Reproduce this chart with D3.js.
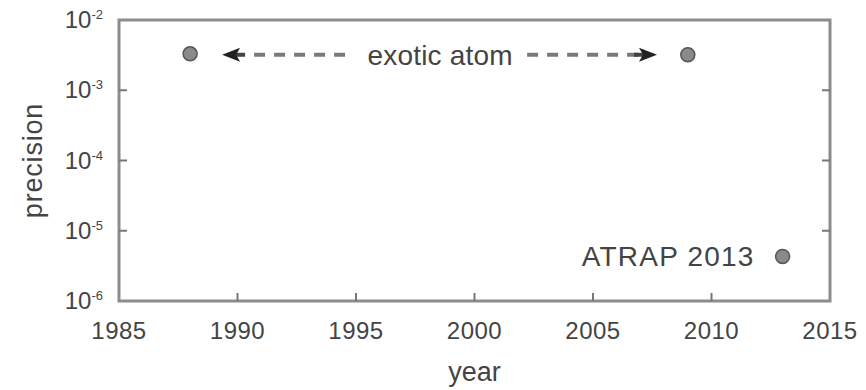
<!DOCTYPE html>
<html>
<head>
<meta charset="utf-8">
<script src="https://cdn.jsdelivr.net/npm/d3@7"></script>
<style>
  body { margin: 0; background: #fff; }
  text { font-family: "Liberation Sans", Arial, sans-serif; fill: #444; }
</style>
</head>
<body>
<script>
// data
var years = [1988, 2009, 2013];
var precision = [3.3e-3, 3.2e-3, 4.3e-6];
var pointLabels = ["", "", "ATRAP 2013"];
var xTicks = [1985, 1990, 1995, 2000, 2005, 2010, 2015];
var yExponents = [-2, -3, -4, -5, -6];
// arrow annotation: tips in years, text centre year, precision level
var arrowSpan = [1989.35, 2007.7];
var arrowText = "exotic atom";
var arrowTextYear = 1998.55;
var arrowLevel = 3.2e-3;

var margin = {top: 20, right: 36, bottom: 89, left: 119},
    width = 866 - margin.left - margin.right,
    height = 390 - margin.top - margin.bottom;

var svg = d3.select("body").append("svg")
    .attr("width", 866)
    .attr("height", 390);

var g = svg.append("g")
    .attr("transform", "translate(" + margin.left + "," + margin.top + ")");

var x = d3.scaleLinear().domain([1985, 2015]).range([0, width]);
var y = d3.scaleLog().domain([1e-6, 1e-2]).range([height, 0]);

// frame
g.append("rect")
    .attr("width", width)
    .attr("height", height)
    .style("fill", "none")
    .style("stroke", "#8c8c8c")
    .style("stroke-width", 3);

// x ticks (inward) and labels
g.selectAll(".xtick")
    .data(xTicks.slice(1, -1))
  .enter().append("line")
    .attr("x1", function(d) { return x(d); })
    .attr("x2", function(d) { return x(d); })
    .attr("y1", height)
    .attr("y2", height - 8)
    .style("stroke", "#777")
    .style("stroke-width", 2);

g.selectAll(".xlabel")
    .data(xTicks)
  .enter().append("text")
    .attr("x", function(d) { return x(d); })
    .attr("y", height + 38)
    .attr("text-anchor", "middle")
    .style("font-size", "24px")
    .style("letter-spacing", "0.5px")
    .text(function(d) { return d; });

// y ticks (inward, both sides) and labels
[0, width].forEach(function(x0) {
  g.selectAll(null)
      .data(yExponents.slice(1, -1))
    .enter().append("line")
      .attr("x1", x0)
      .attr("x2", x0 == 0 ? 8 : x0 - 8)
      .attr("y1", function(d) { return y(Math.pow(10, d)); })
      .attr("y2", function(d) { return y(Math.pow(10, d)); })
      .style("stroke", "#777")
      .style("stroke-width", 2);
});

var ylab = g.selectAll(".ylabel")
    .data(yExponents)
  .enter().append("text")
    .attr("x", -16)
    .attr("y", function(d) { return y(Math.pow(10, d)) + 8; })
    .attr("text-anchor", "end")
    .style("font-size", "24px");
ylab.append("tspan").text("10");
ylab.append("tspan")
    .attr("dy", -9)
    .style("font-size", "13px")
    .text(function(d) { return String(d); });

// axis titles
g.append("text")
    .attr("x", width / 2)
    .attr("y", height + 80)
    .attr("text-anchor", "middle")
    .style("font-size", "27px")
    .text("year");

g.append("text")
    .attr("transform", "translate(" + (-77) + "," + (height / 2) + ") rotate(-90)")
    .attr("text-anchor", "middle")
    .style("font-size", "27px")
    .style("letter-spacing", "0.8px")
    .text("precision");

// arrow annotation
var ay = y(arrowLevel);
var tx = x(arrowTextYear);
var xl = x(arrowSpan[0]), xr = x(arrowSpan[1]);

g.append("line")
    .attr("x1", xl + 32).attr("x2", tx - 95)
    .attr("y1", ay).attr("y2", ay)
    .style("stroke", "#7a7a7a")
    .style("stroke-width", 4)
    .style("stroke-dasharray", "11,9");

g.append("line")
    .attr("x1", tx + 87).attr("x2", xr - 19)
    .attr("y1", ay).attr("y2", ay)
    .style("stroke", "#7a7a7a")
    .style("stroke-width", 4)
    .style("stroke-dasharray", "11,9");

// arrow heads with a short stub
[[xl, 1], [xr, -1]].forEach(function(a) {
  var t = a[0], s = a[1];
  g.append("line")
      .attr("x1", t + s * 12).attr("x2", t + s * 23)
      .attr("y1", ay).attr("y2", ay)
      .style("stroke", "#444")
      .style("stroke-width", 4);
  g.append("path")
      .attr("d", "M" + t + "," + ay +
                 "L" + (t + s * 18) + "," + (ay - 7) +
                 "L" + (t + s * 14) + "," + ay +
                 "L" + (t + s * 18) + "," + (ay + 7) + "Z")
      .style("fill", "#222");
});

g.append("text")
    .attr("x", tx)
    .attr("y", ay + 10)
    .attr("text-anchor", "middle")
    .style("font-size", "28px")
    .style("letter-spacing", "0.2px")
    .text(arrowText);

// points
g.selectAll(".dot")
    .data(years)
  .enter().append("circle")
    .attr("cx", function(d) { return x(d); })
    .attr("cy", function(d, i) { return y(precision[i]); })
    .attr("r", 7)
    .style("fill", "#8a8a8a")
    .style("stroke", "#555")
    .style("stroke-width", 1.5);

g.selectAll(".plabel")
    .data(years)
  .enter().append("text")
    .attr("x", function(d) { return x(d) - 28; })
    .attr("y", function(d, i) { return y(precision[i]) + 10; })
    .attr("text-anchor", "end")
    .style("font-size", "28px")
    .style("letter-spacing", "1.2px")
    .text(function(d, i) { return pointLabels[i]; });
</script>
</body>
</html>
